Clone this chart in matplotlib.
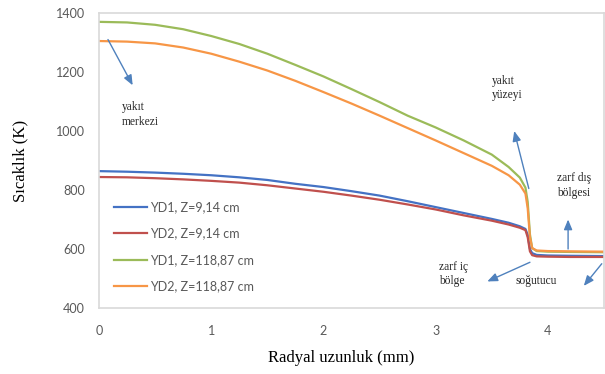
import matplotlib
matplotlib.use("Agg")
import matplotlib.pyplot as plt

# radial position (mm)
radius = [0, 0.25, 0.5, 0.75, 1.0, 1.25, 1.5, 1.75, 2.0, 2.25, 2.5, 2.75, 3.0, 3.25,
          3.5, 3.65, 3.75, 3.8, 3.82, 3.84, 3.86, 3.9, 4.0, 4.2, 4.5]

# temperatures (K)
yd1_z914 = [864, 862, 859, 855, 850, 843, 834, 821, 810, 796, 781, 762, 742, 722,
            702, 689, 677, 668, 648, 600, 586, 580, 578, 577, 576]
yd2_z914 = [844, 843, 840, 836, 831, 825, 816, 805, 794, 781, 767, 751, 734, 714,
            696, 683, 672, 664, 640, 592, 579, 575, 574, 573, 573]
yd1_z11887 = [1370, 1368, 1360, 1345, 1322, 1295, 1262, 1224, 1185, 1142, 1098, 1052,
              1012, 968, 920, 878, 842, 808, 760, 650, 603, 593, 591, 590, 589]
yd2_z11887 = [1305, 1303, 1297, 1283, 1262, 1235, 1205, 1170, 1132, 1093, 1052, 1010,
              968, 925, 882, 850, 818, 788, 738, 640, 603, 595, 593, 592, 591]

series_labels = ["YD1, Z=9,14 cm", "YD2, Z=9,14 cm", "YD1, Z=118,87 cm", "YD2, Z=118,87 cm"]
series_colors = ["#4472C4", "#C0504D", "#9BBB59", "#F79646"]

# annotations: text, text position, arrow tail, arrow head (data coords)
notes = [
    ("yakıt\nmerkezi", (0.2, 1010), (0.08, 1310), (0.3, 1155)),
    ("yakıt\nyüzeyi", (3.5, 1100), (3.83, 805), (3.7, 1000)),
    ("zarf dış\nbölgesi", (4.08, 770), (4.18, 600), (4.18, 700)),
    ("zarf iç\nbölge", (3.03, 470), (3.84, 555), (3.46, 490)),
    ("soğutucu", (3.71, 470), (4.48, 550), (4.32, 475)),
]

SERIF = "Liberation Serif"
SANS = "Lato"
TICK_COLOR = "#595959"
FRAME_COLOR = "#D9D9D9"
ARROW_COLOR = "#4F81BD"

fig = plt.figure(figsize=(6.05, 3.74), dpi=100)
ax = fig.add_axes([99 / 605, 1 - 308 / 374, 505 / 605, 295 / 374])

for vals, lab, col in zip([yd1_z914, yd2_z914, yd1_z11887, yd2_z11887], series_labels, series_colors):
    ax.plot(radius, vals, color=col, lw=1.6, label=lab)

ax.set_xlim(0, 4.5)
ax.set_ylim(400, 1400)
ax.set_xticks([0, 1, 2, 3, 4])
ax.set_yticks([400, 600, 800, 1000, 1200, 1400])
ax.tick_params(length=0, labelsize=9, labelcolor=TICK_COLOR, pad=10)
ax.tick_params(axis="x", pad=12)
for lbl in ax.get_xticklabels() + ax.get_yticklabels():
    lbl.set_family(SANS)
for sp in ax.spines.values():
    sp.set_color(FRAME_COLOR)
    sp.set_linewidth(1.2)

ax.set_xlabel("Radyal uzunluk (mm)", family=SERIF, fontsize=12, va="center")
ax.xaxis.set_label_coords(0.48, -(358 - 308) / 295)
ax.set_ylabel("Sıcaklık (K)", family=SERIF, fontsize=12, labelpad=20)

leg = ax.legend(loc="upper left", bbox_to_anchor=(0.008, 0.4), frameon=False,
                handlelength=2.6, handletextpad=0.25, labelspacing=1.15,
                prop={"family": SANS, "size": 9})
for t in leg.get_texts():
    t.set_color(TICK_COLOR)

for txt, tpos, tail, head in notes:
    ax.text(tpos[0], tpos[1], txt, family=SERIF, fontsize=8.3, color="#262626",
            va="bottom", ha="left", linespacing=1.3)
    ax.annotate("", xy=head, xytext=tail,
                arrowprops=dict(arrowstyle="-|>,head_length=0.6,head_width=0.25",
                                color=ARROW_COLOR, lw=1.0, shrinkA=0, shrinkB=0))

fig.savefig("out.png", dpi=100)
